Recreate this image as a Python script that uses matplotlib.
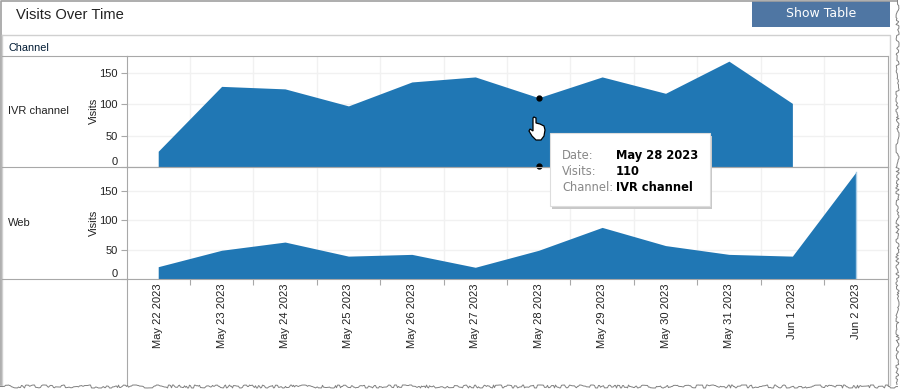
import matplotlib
matplotlib.use("Agg")
import matplotlib.pyplot as plt
from matplotlib.patches import Rectangle, Polygon

plt.rcParams['font.family'] = ['Liberation Sans', 'DejaVu Sans']

dates = ["May 22 2023", "May 23 2023", "May 24 2023", "May 25 2023", "May 26 2023", "May 27 2023",
         "May 28 2023", "May 29 2023", "May 30 2023", "May 31 2023", "Jun 1 2023", "Jun 2 2023"]
ivr_visits = [25, 128, 124, 97, 135, 143, 110, 143, 117, 168, 101]
web_visits = [21, 49, 63, 39, 42, 20, 49, 88, 57, 42, 39, 182]
y_ticks = [0, 50, 100, 150]

W, H = 905, 389
BLUE = "#2077b4"
AXIS = "#a8a8a8"
GRID = "#f1f1f1"
TEXT = "#222222"


def px_axes(fig, left, top, right, bottom):
    return fig.add_axes([left / W, 1 - bottom / H, (right - left) / W, (bottom - top) / H])


def draw_panel(ax, values, ymax, name, show_dates):
    ax.set_facecolor("none")
    xs = list(range(len(values)))
    ax.fill_between(xs, 0, values, color=BLUE, lw=0, zorder=3)
    ax.set_xlim(-0.5, 11.5)
    ax.set_ylim(0, ymax)
    ax.set_yticks(y_ticks)
    ax.set_xticks([i + 0.5 for i in range(11)], minor=True)
    ax.grid(True, axis="y", color=GRID, lw=1)
    ax.grid(True, axis="x", which="minor", color=GRID, lw=1)
    ax.set_axisbelow(True)
    for s in ax.spines.values():
        s.set_color(AXIS)
        s.set_linewidth(0.8)
    ax.spines["bottom"].set_zorder(5)
    ax.tick_params(axis="y", length=4, width=0.8, color=AXIS, labelsize=8, labelcolor=TEXT, pad=2.5)
    labels = ax.get_yticklabels()
    labels[0].set_verticalalignment("bottom")
    ax.set_ylabel("Visits", fontsize=8, color=TEXT)
    ax.yaxis.set_label_coords(-0.036, 0.5)
    if show_dates:
        ax.set_xticks(range(12))
        ax.set_xticklabels(dates, rotation=90, fontsize=8, color=TEXT)
        ax.tick_params(axis="x", which="major", length=0, pad=3.5)
        ax.tick_params(axis="x", which="minor", length=4, width=0.8, color=AXIS)
    else:
        ax.set_xticks([])
        ax.tick_params(axis="x", which="minor", length=0)
    ax.text(-0.156, 0.5, name, transform=ax.transAxes, fontsize=8, color=TEXT, va="center", ha="left")


fig = plt.figure(figsize=(W / 100, H / 100), dpi=100, facecolor="white")

ax1 = px_axes(fig, 126.5, 55.5, 887.5, 167)
ax2 = px_axes(fig, 126.5, 167, 887.5, 279)
draw_panel(ax1, ivr_visits, 177, "IVR channel", False)
draw_panel(ax2, web_visits, 191, "Web", True)
ax2.plot([11, 11], [0, web_visits[-1]], color="#a9cce6", lw=1, zorder=4)

# page furniture, in pixel coordinates
top = fig.add_axes([0, 0, 1, 1], facecolor="none")
top.set_xlim(0, W)
top.set_ylim(H, 0)
top.axis("off")

top.plot([1, 1, 897], [385, 0.5, 0.5], color="#a0a0a0", lw=1.2)
top.plot([2, 2], [34.5, 385], color="#d0d0d0", lw=1)
top.plot([2, 890, 890], [34.5, 34.5, 385], color="#d0d0d0", lw=1)
top.plot([1.5, 126.5], [55.5, 55.5], color=AXIS, lw=0.8)
top.plot([1.5, 126.5], [167, 167], color=AXIS, lw=0.8)
top.plot([1.5, 126.5], [279, 279], color=AXIS, lw=0.8)
top.plot([126.5, 126.5], [279, 385], color=AXIS, lw=0.8)
top.plot([887.5, 887.5], [279, 385], color=AXIS, lw=0.8)

top.text(16, 15, "Visits Over Time", fontsize=10.6, color="#222222", va="center")
top.text(8, 48, "Channel", fontsize=7.8, color="#001a33", va="center")
top.add_patch(Rectangle((752, 1), 138, 26, color="#4f76a3", lw=0))
top.text(821, 13, "Show Table", fontsize=9, color="white", ha="center", va="center", family="DejaVu Sans")

# torn screenshot edge
edge_r, = top.plot([897, 897], [0, 384], color="#808080", lw=0.7)
edge_b, = top.plot([0, 897], [386, 386], color="#808080", lw=0.7)
edge_r.set_sketch_params(scale=1.5, length=18, randomness=30)
edge_b.set_sketch_params(scale=1.5, length=18, randomness=30)

# hovered point
ax1.plot([6, 6], [ivr_visits[6], 1.5], ls="none", marker="o", ms=3.5, color="black", zorder=6, clip_on=False)

# tooltip
top.add_patch(Rectangle((552, 136), 160, 73, color="#c8c8c8", lw=0, zorder=8))
top.add_patch(Rectangle((550, 133), 160, 73, facecolor="white", edgecolor="#dddddd", lw=0.8, zorder=9))
rows = [("Date:", "May 28 2023", 155), ("Visits:", "110", 171), ("Channel:", "IVR channel", 187)]
for key, val, y in rows:
    top.text(562, y, key, fontsize=8.3, color="#888888", va="center", family="DejaVu Sans", zorder=10)
    top.text(616, y, val, fontsize=8.3, color="black", va="center", family="DejaVu Sans", weight="bold", zorder=10)

# hand cursor
hand = [(533, 118), (534, 117), (536, 118), (536, 123), (540, 124), (544, 126), (545, 130), (544, 136),
        (541, 140), (536, 140), (532, 136), (529, 131), (530, 129), (533, 131)]
top.add_patch(Polygon(hand, closed=True, facecolor="white", edgecolor="black", lw=0.9, zorder=7))

fig.savefig("out.png", dpi=100)
